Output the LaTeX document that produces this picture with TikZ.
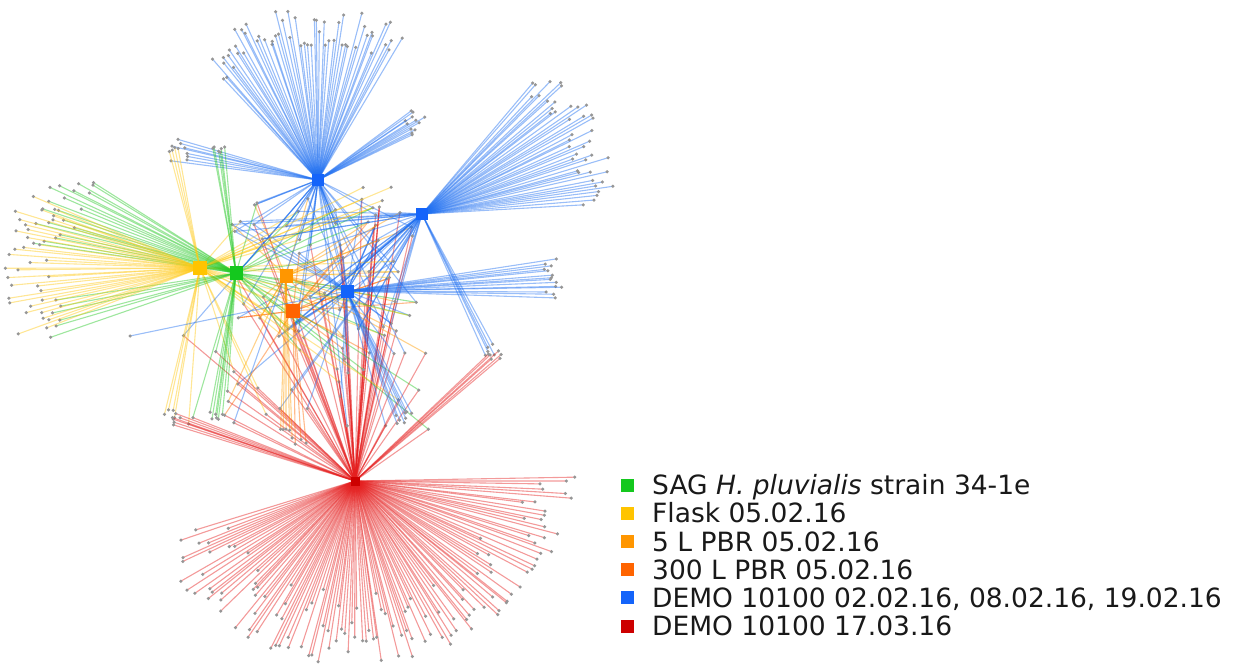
\documentclass[tikz,border=0pt]{standalone}
\usepackage{fontspec}
\setmainfont{DejaVu Sans}
\usetikzlibrary{calc}

% edge colours (one per hub)
\definecolor{colG}{RGB}{40,200,40}
\definecolor{colY}{RGB}{255,200,20}
\definecolor{colO1}{RGB}{255,155,0}
\definecolor{colO2}{RGB}{255,105,0}
\definecolor{colB1}{RGB}{30,110,240}
\definecolor{colB2}{RGB}{30,110,240}
\definecolor{colB3}{RGB}{30,110,240}
\definecolor{colR}{RGB}{228,30,30}
% hub / key colours
\definecolor{hubG}{RGB}{20,200,30}
\definecolor{hubY}{RGB}{255,196,0}
\definecolor{hubO1}{RGB}{255,150,0}
\definecolor{hubO2}{RGB}{255,100,0}
\definecolor{hubB}{RGB}{20,100,250}
\definecolor{hubR}{RGB}{205,0,0}
\definecolor{dotgray}{RGB}{150,150,150}

% a fan of leaves around a hub: hub, prefix, count, angle from, angle to, radius from, radius to
\newcommand\spray[7]{%
  \foreach \i in {1,...,#3}{%
    \pgfmathsetmacro\ang{#4+(#5-#4)/#3*(\i-0.5+0.8*(rnd-0.5))}%
    \pgfmathsetmacro\rad{#6+(#7-#6)*rnd}%
    \draw[edge,draw=col#1] (#1) -- ($(#1)+(\ang:\rad)$) node[leaf] (#2\i) {};%
  }}

\begin{document}
\begin{tikzpicture}[x=1pt,y=-1pt,
  edge/.style={line width=1.1pt,draw opacity=0.45},
  leaf/.style={circle,inner sep=0pt,minimum size=3.5pt,fill=dotgray},
  hub/.style={rectangle,inner sep=0pt,minimum size=12pt},
  keybox/.style={rectangle,inner sep=0pt,minimum size=13pt},
  keytext/.style={anchor=base west,inner sep=0pt,font=\fontsize{26.5}{30}\selectfont,text=black!90}]
\useasboundingbox (0,0) rectangle (1236,668);
\pgfmathsetseed{2016}
\pgfmathdeclarerandomlist{hubs}{{G}{Y}{O1}{O2}{B1}{B2}{B3}{R}{B1}{B3}{R}{B2}}
\pgfmathdeclarerandomlist{uphubs}{{G}{Y}{O1}{O2}{B1}{B2}{B3}{B3}}

% hub positions
\coordinate (B1) at (318,180);
\coordinate (B2) at (422,214);
\coordinate (B3) at (347,291);
\coordinate (G)  at (236,273);
\coordinate (Y)  at (200,268);
\coordinate (O1) at (286,276);
\coordinate (O2) at (293,311);
\coordinate (R)  at (355,481);

% shared leaves in the dense centre
\foreach \k in {1,...,60}{%
  \pgfmathsetmacro\px{232+190*rnd}%
  \pgfmathsetmacro\py{195+145*rnd}%
  \coordinate (mid\k) at (\px,\py);%
  \pgfmathrandomitem{\ha}{hubs}\pgfmathrandomitem{\hb}{hubs}\pgfmathrandomitem{\hc}{hubs}%
  \draw[edge,draw=col\ha] (\ha) -- (mid\k);
  \draw[edge,draw=col\hb] (\hb) -- (mid\k);
  \draw[edge,draw=col\hc] (\hc) -- (mid\k);
  \node[leaf] (midleaf\k) at (mid\k) {};%
}

% shared leaves between the centre and the red hub
\foreach \k in {1,...,34}{%
  \pgfmathsetmacro\px{180+250*rnd}%
  \pgfmathsetmacro\py{330+105*rnd}%
  \coordinate (low\k) at (\px,\py);%
  \pgfmathrandomitem{\ha}{uphubs}%
  \draw[edge,draw=colR] (R) -- (low\k);
  \draw[edge,draw=col\ha] (\ha) -- (low\k);
  \node[leaf] (lowleaf\k) at (low\k) {};%
}

% fans of leaves
\spray{B1}{bt}{56}{-134}{-59}{134}{174}
\spray{B1}{bl}{8}{-173}{-163}{132}{150}
\spray{B1}{br}{12}{-37}{-25}{104}{126}
\spray{B2}{cr}{42}{-50}{-3}{160}{198}
\spray{B2}{cd}{5}{61}{66}{148}{160}
\spray{B3}{dr}{14}{-9}{2}{196}{216}
\spray{B3}{dd}{8}{62}{70}{132}{146}
\spray{G}{gl}{20}{-172}{-147}{165}{212}
\spray{G}{gs}{6}{160}{172}{175}{200}
\spray{G}{gu}{6}{-101}{-95}{120}{130}
\spray{G}{gd}{6}{95}{101}{140}{150}
\spray{Y}{yl}{34}{158}{204}{150}{195}
\spray{Y}{yu}{4}{-105}{-100}{114}{124}
\spray{Y}{yd}{4}{99}{104}{144}{152}
\spray{Y}{yr}{3}{-27}{-19}{180}{225}
\spray{O1}{od}{5}{87}{93}{148}{165}
\spray{O2}{pd}{3}{84}{90}{122}{134}
\spray{R}{rl}{6}{-163}{-159}{185}{196}
\spray{R}{ru}{6}{-44}{-40}{182}{194}

% lone leaf on the far left
\coordinate (far) at (130,336);
\draw[edge,draw=colB3] (B3) -- (far) node[leaf] (farleaf) {};

% the large lower fan of the red hub
\foreach \i in {1,...,130}{%
  \pgfmathsetmacro\ang{-2+1.27*(\i-0.5+0.8*(rnd-0.5))}%
  \pgfmathsetmacro\rmax{222-38*sin(\ang)}%
  \pgfmathsetmacro\rad{\rmax*(0.58+0.42*sqrt(rnd))}%
  \draw[edge,draw=colR] (R) -- ($(R)+(\ang:\rad)$) node[leaf] (rf\i) {};%
}

% hub markers
\node[hub,fill=hubB] (B1sq) at (B1) {};
\node[hub,fill=hubB] (B2sq) at (B2) {};
\node[hub,fill=hubB,minimum size=13pt] (B3sq) at (B3) {};
\node[hub,fill=hubG,minimum size=13pt] (Gsq) at (G) {};
\node[hub,fill=hubY,minimum size=14pt] (Ysq) at (Y) {};
\node[hub,fill=hubO1,minimum size=13pt] (O1sq) at (O1) {};
\node[hub,fill=hubO2,minimum size=14pt] (O2sq) at (O2) {};
\node[hub,fill=hubR,minimum size=9pt] (Rsq) at (R) {};

% key
\node[keybox,fill=hubG]  (k1) at (627,485.0) {};
\node[keybox,fill=hubY]  (k2) at (627,513.2) {};
\node[keybox,fill=hubO1] (k3) at (627,541.4) {};
\node[keybox,fill=hubO2] (k4) at (627,569.6) {};
\node[keybox,fill=hubB]  (k5) at (627,597.8) {};
\node[keybox,fill=hubR]  (k6) at (627,626.0) {};
\node[keytext] (t1) at (652,494.6) {SAG \textit{H. pluvialis} strain 34-1e};
\node[keytext] (t2) at (652,522.8) {Flask 05.02.16};
\node[keytext] (t3) at (652,551.0) {5 L PBR 05.02.16};
\node[keytext] (t4) at (652,579.2) {300 L PBR 05.02.16};
\node[keytext] (t5) at (652,607.4) {DEMO 10100 02.02.16, 08.02.16, 19.02.16};
\node[keytext] (t6) at (652,635.6) {DEMO 10100 17.03.16};
\end{tikzpicture}
\end{document}
